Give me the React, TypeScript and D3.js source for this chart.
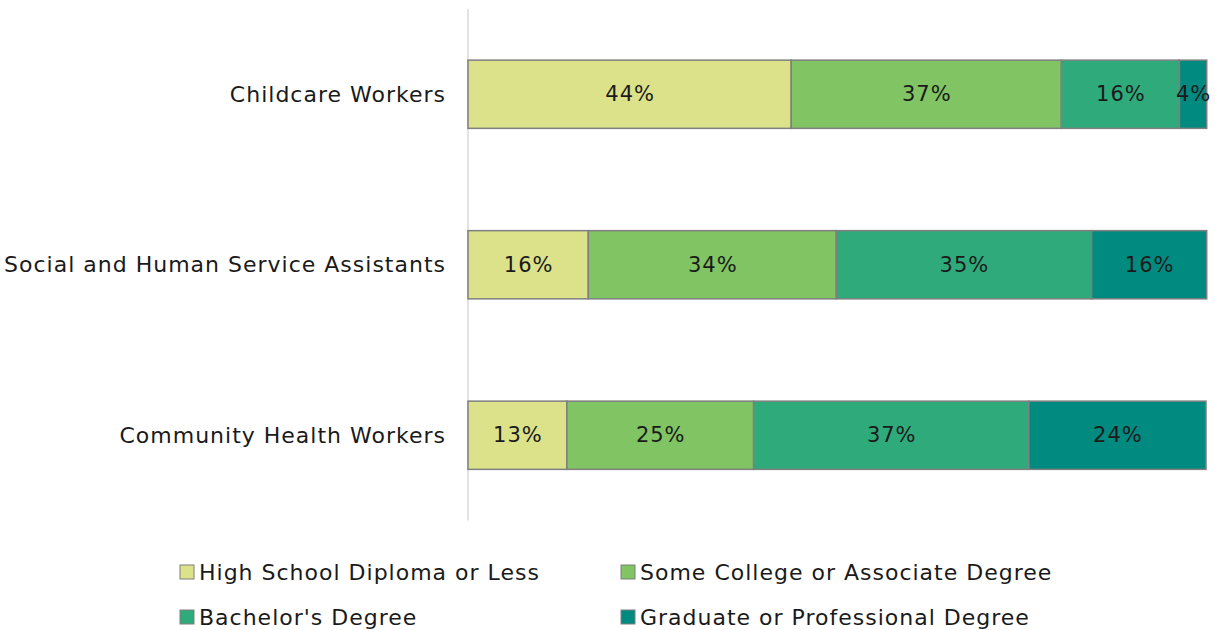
import { useEffect, useRef } from 'react'
import * as d3 from 'd3'

const categories = ['Childcare Workers', 'Social and Human Service Assistants', 'Community Health Workers']
const seriesNames = [
  'High School Diploma or Less',
  'Some College or Associate Degree',
  "Bachelor's Degree",
  'Graduate or Professional Degree'
]
const highSchool = [43.8, 16.3, 13.4]
const someCollege = [36.6, 33.6, 25.3]
const bachelors = [16.0, 34.6, 37.3]
const graduate = [3.7, 15.6, 24.0]
const colors = ['#dbe28a', '#80c463', '#2faa7b', '#008a80']

const W = 1215
const H = 630
const FONT = "'DejaVu Sans', sans-serif"

export default function App() {
  const ref = useRef<SVGSVGElement | null>(null)

  useEffect(() => {
    if (!ref.current) return
    const svg = d3.select(ref.current)
    svg.selectAll('*').remove()

    const rows = categories.map((c, i) => ({
      cat: c,
      vals: [highSchool[i], someCollege[i], bachelors[i], graduate[i]]
    }))

    const x = d3.scaleLinear().domain([0, 100]).range([468, 1206])
    const y = d3.scaleBand<string>().domain(categories).range([9, 520.5]).paddingInner(0.6).paddingOuter(0.3)

    // axis line
    svg.append('line')
      .attr('x1', 468).attr('x2', 468)
      .attr('y1', 9).attr('y2', 520.5)
      .attr('stroke', '#d9d9d9').attr('stroke-width', 1.5)

    rows.forEach(row => {
      let acc = 0
      const y0 = y(row.cat) as number
      const bh = y.bandwidth()
      row.vals.forEach((v, k) => {
        const x0 = x(acc)
        const x1 = x(acc + v)
        acc += v
        svg.append('rect')
          .attr('x', x0).attr('y', y0)
          .attr('width', x1 - x0).attr('height', bh)
          .attr('fill', colors[k])
          .attr('stroke', '#7f7f7f').attr('stroke-width', 1.5)
        svg.append('text')
          .attr('x', (x0 + x1) / 2 + 0.5).attr('y', y0 + bh / 2)
          .attr('text-anchor', 'middle').attr('dominant-baseline', 'central')
          .attr('font-family', FONT).attr('font-size', 21)
          .attr('letter-spacing', 1)
          .attr('fill', '#1a1a1a')
          .text(`${Math.round(v)}%`)
      })
      svg.append('text')
        .attr('x', 446).attr('y', y0 + bh / 2)
        .attr('text-anchor', 'end').attr('dominant-baseline', 'central')
        .attr('font-family', FONT).attr('font-size', 22)
        .attr('letter-spacing', 1)
        .attr('fill', '#1a1a1a')
        .text(row.cat)
    })

    // legend
    const legX = [180, 621]
    const legY = [572, 617]
    seriesNames.forEach((name, k) => {
      const lx = legX[k % 2]
      const ly = legY[Math.floor(k / 2)]
      svg.append('rect')
        .attr('x', lx).attr('y', ly - 7)
        .attr('width', 14).attr('height', 14)
        .attr('fill', colors[k])
        .attr('stroke', '#7f7f7f').attr('stroke-width', 1)
      svg.append('text')
        .attr('x', lx + 19).attr('y', ly)
        .attr('dominant-baseline', 'central')
        .attr('font-family', FONT).attr('font-size', 22)
        .attr('letter-spacing', 1)
        .attr('fill', '#1a1a1a')
        .text(name)
    })
  }, [])

  return (
    <svg
      ref={ref}
      width={W}
      height={H}
      style={{ position: 'absolute', left: 0, top: 0, background: '#fff' }}
    />
  )
}
